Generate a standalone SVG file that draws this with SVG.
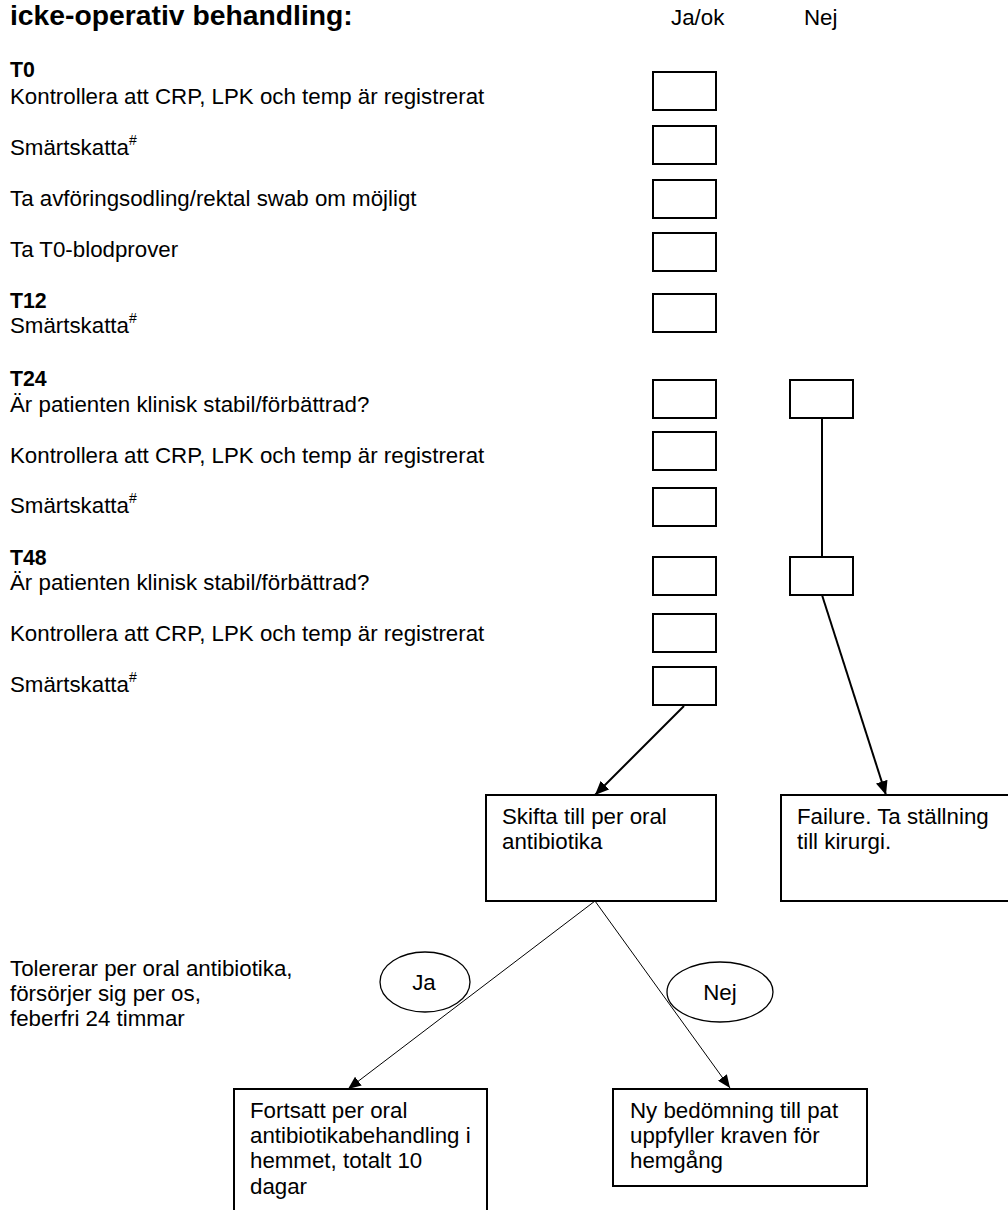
<svg xmlns="http://www.w3.org/2000/svg" width="1008" height="1210" viewBox="0 0 1008 1210">
<defs>
<style>
text{font-family:"Liberation Sans",Arial,sans-serif;font-size:22.3px;fill:#000}
.title{font-size:28.3px;font-weight:bold}
.lbl{font-weight:bold;font-size:21.3px}
.sup{font-size:14px}
.chk{fill:#fff;stroke:#000;stroke-width:2}
.box{fill:#fff;stroke:#000;stroke-width:2}
.thick{stroke:#000;stroke-width:2;fill:none}
.thin{stroke:#000;stroke-width:1;fill:none}
.oval{fill:none;stroke:#000;stroke-width:1.3}
.mid{text-anchor:middle}
</style>
<marker id="ah" markerUnits="userSpaceOnUse" markerWidth="15" markerHeight="12" refX="14" refY="6" orient="auto">
<path d="M0,0 L14,6 L0,12 z" fill="#000"/>
</marker>
<marker id="ahs" markerUnits="userSpaceOnUse" markerWidth="14" markerHeight="11" refX="13" refY="5.5" orient="auto">
<path d="M0,0 L13,5.5 L0,11 z" fill="#000"/>
</marker>
</defs>
<rect width="1008" height="1210" fill="#fff"/>

<g id="header">
<text class="title" x="10" y="25">icke-operativ behandling:</text>
<text x="671" y="25">Ja/ok</text>
<text x="804" y="25">Nej</text>
</g>

<g id="checklist-text">
<text class="lbl" x="10" y="77">T0</text>
<text x="10" y="104">Kontrollera att CRP, LPK och temp är registrerat</text>
<text x="10" y="155">Smärtskatta<tspan class="sup" dy="-10">#</tspan></text>
<text x="10" y="206">Ta avföringsodling/rektal swab om möjligt</text>
<text x="10" y="257">Ta T0-blodprover</text>
<text class="lbl" x="10" y="308">T12</text>
<text x="10" y="333">Smärtskatta<tspan class="sup" dy="-10">#</tspan></text>
<text class="lbl" x="10" y="386">T24</text>
<text x="10" y="412">Är patienten klinisk stabil/förbättrad?</text>
<text x="10" y="463">Kontrollera att CRP, LPK och temp är registrerat</text>
<text x="10" y="513">Smärtskatta<tspan class="sup" dy="-10">#</tspan></text>
<text class="lbl" x="10" y="565">T48</text>
<text x="10" y="590">Är patienten klinisk stabil/förbättrad?</text>
<text x="10" y="641">Kontrollera att CRP, LPK och temp är registrerat</text>
<text x="10" y="692">Smärtskatta<tspan class="sup" dy="-10">#</tspan></text>
</g>

<g id="ja-boxes">
<rect class="chk" x="653" y="72" width="63" height="38"/>
<rect class="chk" x="653" y="126" width="63" height="38"/>
<rect class="chk" x="653" y="180" width="63" height="38"/>
<rect class="chk" x="653" y="233" width="63" height="38"/>
<rect class="chk" x="653" y="294" width="63" height="38"/>
<rect class="chk" x="653" y="380" width="63" height="38"/>
<rect class="chk" x="653" y="432" width="63" height="38"/>
<rect class="chk" x="653" y="488" width="63" height="38"/>
<rect class="chk" x="653" y="557" width="63" height="38"/>
<rect class="chk" x="653" y="614" width="63" height="38"/>
<rect class="chk" x="653" y="667" width="63" height="38"/>
</g>

<g id="nej-boxes">
<rect class="chk" x="790" y="380" width="63" height="38"/>
<rect class="chk" x="790" y="557" width="63" height="38"/>
</g>

<g id="connectors">
<line class="thick" x1="822" y1="418" x2="822" y2="557"/>
<line class="thick" x1="684" y1="706" x2="595" y2="795" marker-end="url(#ah)"/>
<line class="thick" x1="822" y1="595" x2="886" y2="795" marker-end="url(#ah)"/>
<line class="thin" x1="595" y1="901" x2="348" y2="1089" marker-end="url(#ahs)"/>
<line class="thin" x1="595" y1="901" x2="730" y2="1088" marker-end="url(#ahs)"/>
</g>

<g id="skifta">
<rect class="box" x="486" y="795" width="230" height="106"/>
<text x="502" y="824">Skifta till per oral</text>
<text x="502" y="849">antibiotika</text>
</g>

<g id="failure">
<rect class="box" x="781" y="795" width="240" height="106"/>
<text x="797" y="824">Failure. Ta ställning</text>
<text x="797" y="849">till kirurgi.</text>
</g>

<g id="criteria">
<text x="10" y="976">Tolererar per oral antibiotika,</text>
<text x="10" y="1001">försörjer sig per os,</text>
<text x="10" y="1026">feberfri 24 timmar</text>
</g>

<g id="ja-label">
<ellipse class="oval" cx="425" cy="982" rx="45" ry="30"/>
<text class="mid" x="424" y="990">Ja</text>
</g>

<g id="nej-label">
<ellipse class="oval" cx="720" cy="992" rx="53" ry="30"/>
<text class="mid" x="720" y="1000">Nej</text>
</g>

<g id="fortsatt">
<rect class="box" x="234" y="1089" width="253" height="140"/>
<text x="250" y="1118">Fortsatt per oral</text>
<text x="250" y="1143">antibiotikabehandling i</text>
<text x="250" y="1168">hemmet, totalt 10</text>
<text x="250" y="1194">dagar</text>
</g>

<g id="ny-bedomning">
<rect class="box" x="613" y="1089" width="254" height="97"/>
<text x="630" y="1118">Ny bedömning till pat</text>
<text x="630" y="1143">uppfyller kraven för</text>
<text x="630" y="1168">hemgång</text>
</g>
</svg>
